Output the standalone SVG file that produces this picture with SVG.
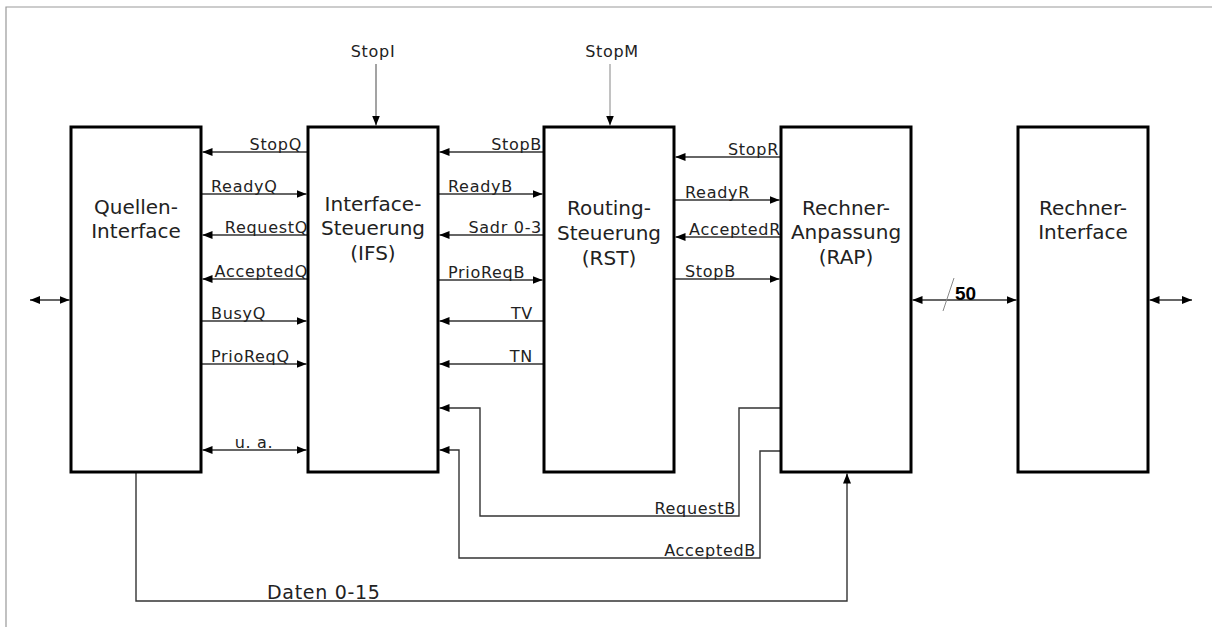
<svg xmlns="http://www.w3.org/2000/svg" width="1212" height="627" viewBox="0 0 1212 627">
<defs>
<marker id="ah" viewBox="0 0 10 8" refX="10" refY="4" markerWidth="10" markerHeight="8" markerUnits="userSpaceOnUse" orient="auto-start-reverse">
<path d="M0,0 L10,4 L0,8 z" fill="#000"/>
</marker>
<style>
.box{fill:#fff;stroke:#000;stroke-width:3}
.bl{font-family:"DejaVu Sans","Liberation Sans",sans-serif;font-size:20px;fill:#222;text-anchor:middle}
.sl{font-family:"DejaVu Sans","Liberation Sans",sans-serif;font-size:16px;letter-spacing:0.7px;fill:#222}
.e{text-anchor:end}
.m{text-anchor:middle}
.c{stroke:#333;stroke-width:1.4;fill:none}
.a{marker-end:url(#ah)}
.d{marker-start:url(#ah);marker-end:url(#ah)}
</style>
</defs>
<rect width="1212" height="627" fill="#fff"/>
<path d="M6,627 L6,7 L1212,7" fill="none" stroke="#999" stroke-width="1.2"/>

<g id="connectors">
<line class="c d" x1="30" y1="300" x2="69.5" y2="300"/>
<line class="c d" x1="1149.5" y1="300" x2="1192" y2="300"/>
<line class="c d" x1="912.5" y1="300" x2="1016.5" y2="300"/>
<line x1="943" y1="311" x2="954" y2="278" stroke="#888" stroke-width="1"/>
<text x="955" y="300" font-family="Liberation Sans, Arial, sans-serif" font-size="19" font-weight="bold" fill="#000">50</text>
<line x1="376" y1="64" x2="376" y2="125.5" stroke="#666" stroke-width="1.2" class="a"/>
<text class="sl m" x="373" y="57">StopI</text>
<line x1="610" y1="64" x2="610" y2="125.5" stroke="#999" stroke-width="1.2" class="a"/>
<text class="sl m" x="612" y="57">StopM</text>
<line class="c a" x1="307" y1="152" x2="202.5" y2="152"/>
<text class="sl e" x="302" y="150">StopQ</text>
<line class="c a" x1="202" y1="194" x2="306.5" y2="194"/>
<text class="sl" x="211" y="192">ReadyQ</text>
<line class="c a" x1="307" y1="235" x2="202.5" y2="235"/>
<text class="sl e" x="308" y="233">RequestQ</text>
<line class="c a" x1="307" y1="279" x2="202.5" y2="279"/>
<text class="sl e" x="308" y="277">AcceptedQ</text>
<line class="c a" x1="202" y1="321" x2="306.5" y2="321"/>
<text class="sl" x="211" y="319">BusyQ</text>
<line class="c a" x1="202" y1="364" x2="306.5" y2="364"/>
<text class="sl" x="211" y="362">PrioReqQ</text>
<line class="c d" x1="202.5" y1="450" x2="306.5" y2="450"/>
<text class="sl m" x="254" y="448">u. a.</text>
<line class="c a" x1="543" y1="152" x2="439.5" y2="152"/>
<text class="sl e" x="542" y="150">StopB</text>
<line class="c a" x1="439" y1="194" x2="542.5" y2="194"/>
<text class="sl" x="448" y="192">ReadyB</text>
<line class="c a" x1="543" y1="235" x2="439.5" y2="235"/>
<text class="sl e" x="542" y="233">Sadr 0-3</text>
<line class="c a" x1="439" y1="280" x2="542.5" y2="280"/>
<text class="sl" x="448" y="278">PrioReqB</text>
<line class="c a" x1="543" y1="321" x2="439.5" y2="321"/>
<text class="sl e" x="533" y="319">TV</text>
<line class="c a" x1="543" y1="364" x2="439.5" y2="364"/>
<text class="sl e" x="533" y="362">TN</text>
<line class="c a" x1="780" y1="157" x2="675.5" y2="157"/>
<text class="sl e" x="779" y="155">StopR</text>
<line class="c a" x1="675" y1="200" x2="779.5" y2="200"/>
<text class="sl" x="685" y="198">ReadyR</text>
<line class="c a" x1="780" y1="237" x2="675.5" y2="237"/>
<text class="sl e" x="781" y="235">AcceptedR</text>
<line class="c a" x1="675" y1="279" x2="779.5" y2="279"/>
<text class="sl" x="685" y="277">StopB</text>
<path class="c a" d="M780,408 L739,408 L739,516 L480,516 L480,408 L439.5,408"/>
<text class="sl e" x="736" y="514">RequestB</text>
<path class="c a" d="M780,451 L760,451 L760,558 L459,558 L459,450 L439.5,450"/>
<text class="sl e" x="756" y="556">AcceptedB</text>
<path class="c a" d="M136,473 L136,601 L847,601 L847,473.5"/>
<text class="sl" x="267" y="599" style="font-size:19px">Daten 0-15</text>
</g>

<g id="quellen-interface">
<rect class="box" x="71" y="127" width="130" height="345"/>
<text class="bl" x="136" y="214">Quellen-</text>
<text class="bl" x="136" y="238">Interface</text>
</g>
<g id="interface-steuerung">
<rect class="box" x="308" y="127" width="130" height="345"/>
<text class="bl" x="373" y="211">Interface-</text>
<text class="bl" x="373" y="235">Steuerung</text>
<text class="bl" x="373" y="260">(IFS)</text>
</g>
<g id="routing-steuerung">
<rect class="box" x="544" y="127" width="130" height="345"/>
<text class="bl" x="609" y="215">Routing-</text>
<text class="bl" x="609" y="240">Steuerung</text>
<text class="bl" x="609" y="265">(RST)</text>
</g>
<g id="rechner-anpassung">
<rect class="box" x="781" y="127" width="130" height="345"/>
<text class="bl" x="846" y="215">Rechner-</text>
<text class="bl" x="846" y="239">Anpassung</text>
<text class="bl" x="846" y="264">(RAP)</text>
</g>
<g id="rechner-interface">
<rect class="box" x="1018" y="127" width="130" height="345"/>
<text class="bl" x="1083" y="215">Rechner-</text>
<text class="bl" x="1083" y="239">Interface</text>
</g>
</svg>
